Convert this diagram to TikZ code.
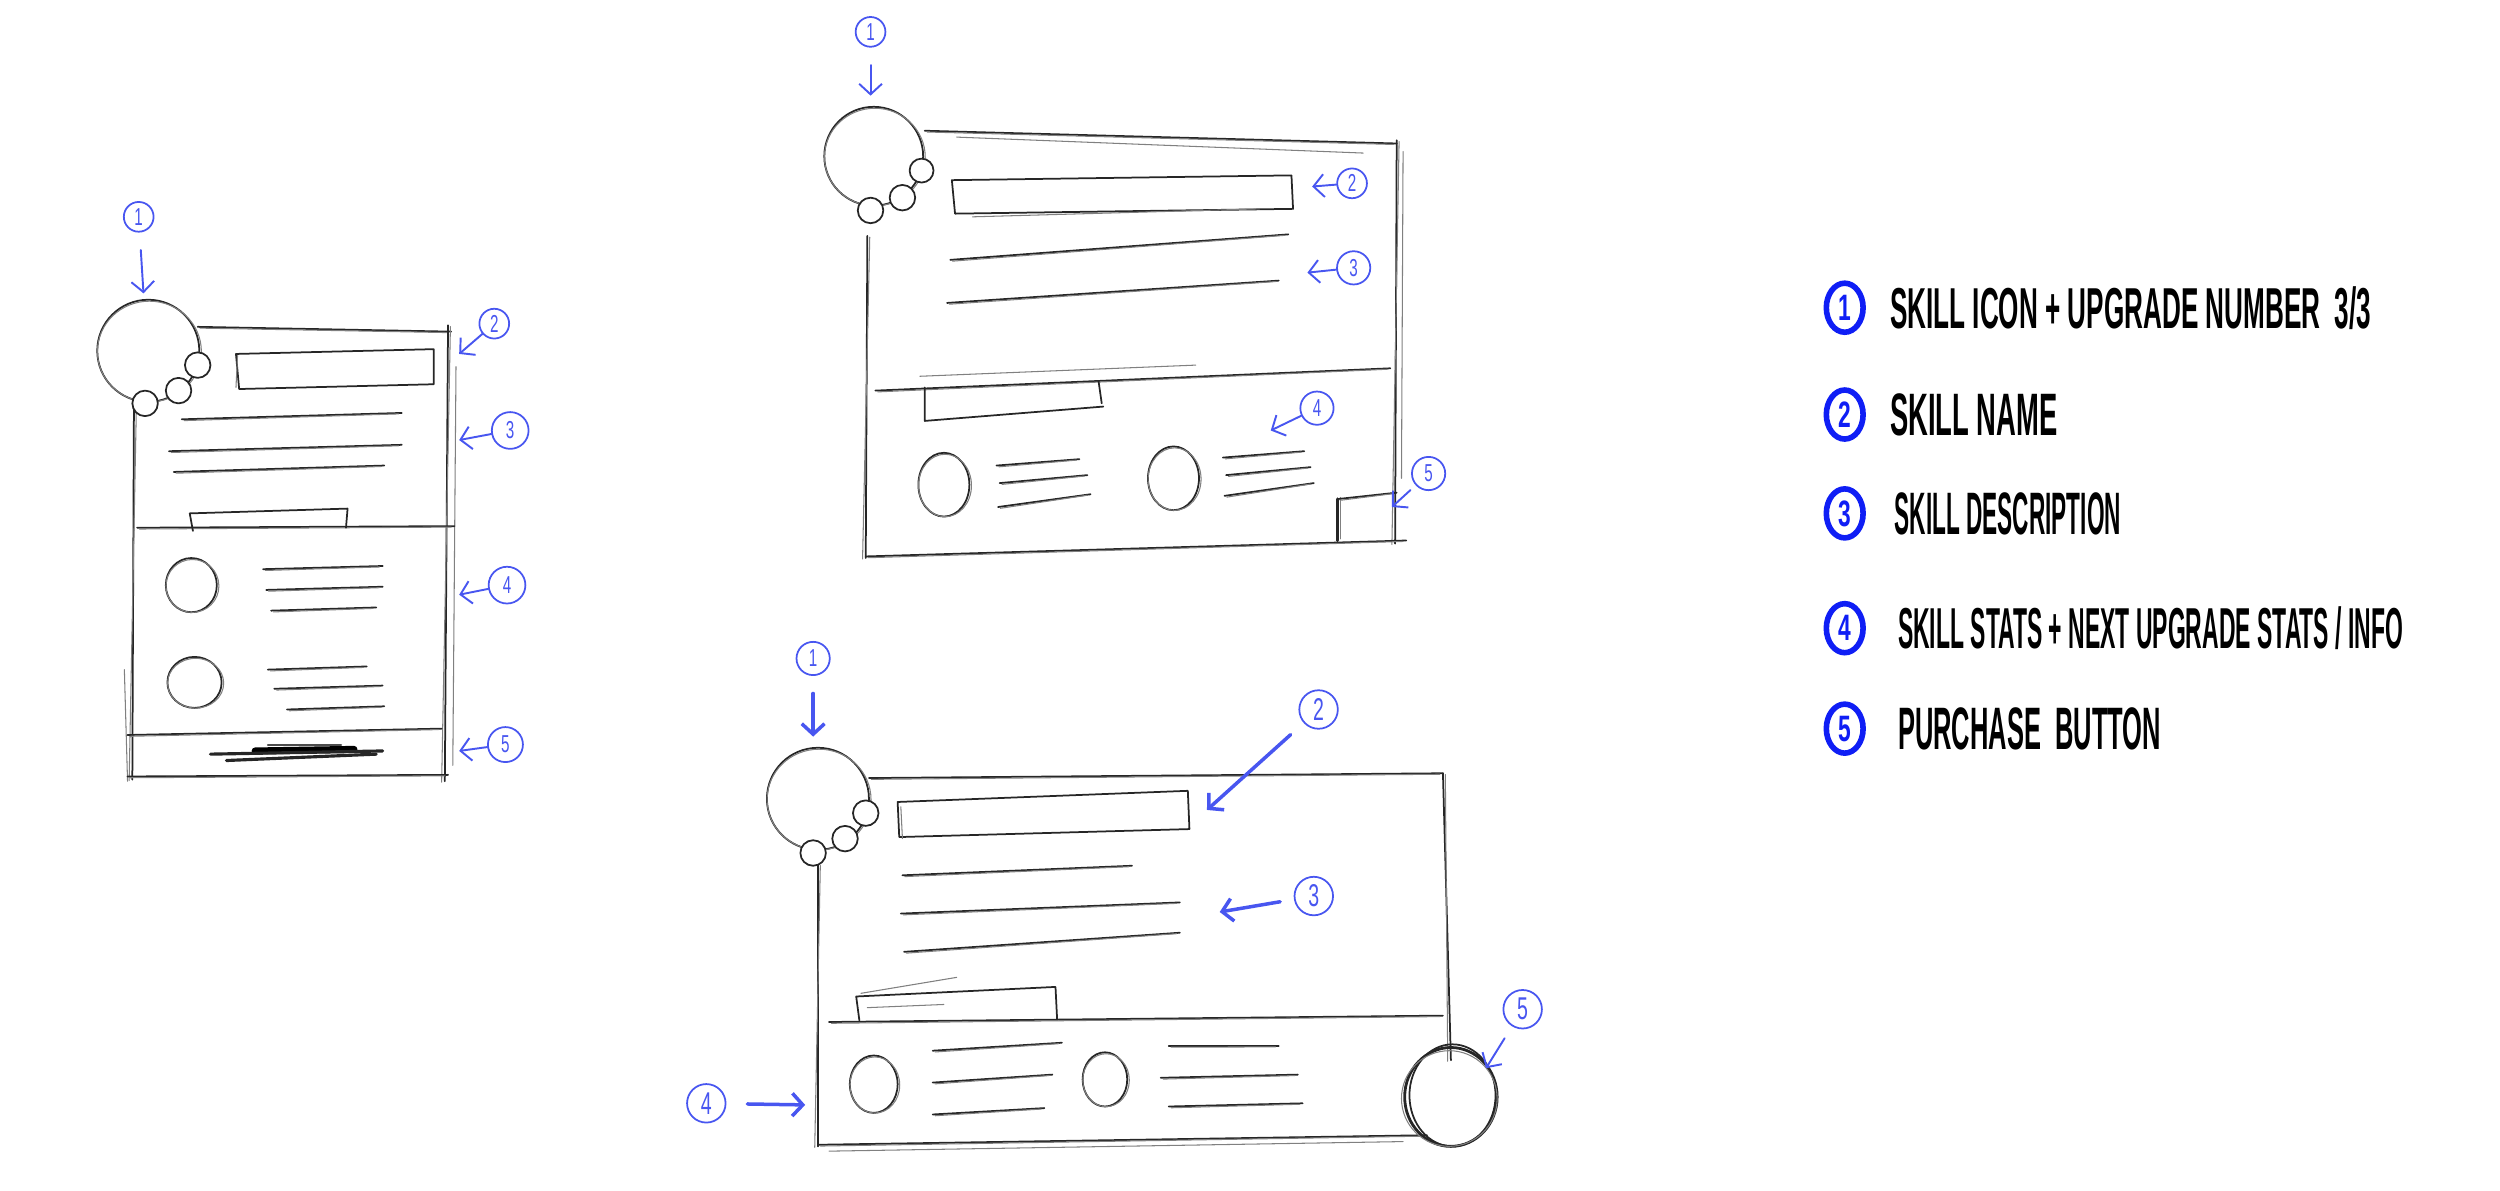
\documentclass[tikz,border=0pt]{standalone}
\usepackage{fontspec}
\usepackage{graphicx}
\usetikzlibrary{arrows.meta,calc,shapes.geometric}
\newfontfamily\hand[FakeStretch=0.62]{Liberation Sans}
\definecolor{annblue}{RGB}{72,86,240}
\definecolor{legblue}{RGB}{15,30,245}
\newcommand\SL[2]{\draw[sk] #1 -- #2;\draw[skb] ($#1+(1.5,0.8)$) -- ($#2+(-2,0.6)$);}
\newcommand\SE[3]{\draw[sk] #1 ellipse [x radius=#2, y radius=#3];\draw[skb] ($#1+(0.7,0.5)$) ellipse [x radius=#2+0.6, y radius=#3-0.4];}
\newcommand\SF[2]{\filldraw[sk,fill=white] #1 circle [radius=#2];}
\begin{document}
\begin{tikzpicture}[x=0.016cm,y=-0.016cm,
  sk/.style={draw=black!85,line width=0.5pt,line cap=round,line join=round},
  skb/.style={draw=black!50,line width=0.3pt,line cap=round},
  ann/.style={draw=annblue,line width=0.55pt,line cap=round},
  arr/.style={ann,-{Straight Barb[length=3pt,width=6.5pt]}},
  harr/.style={arr,line width=1pt},
  num/.style={circle,draw=annblue,line width=0.5pt,text=annblue,inner sep=0pt,minimum size=8.5pt,font=\hand\fontsize{7}{7}\selectfont},
  bnum/.style={num,minimum size=11pt,font=\hand\fontsize{9}{9}\selectfont},
  lnum/.style={ellipse,draw=legblue,line width=1.6pt,text=legblue,inner sep=0pt,minimum width=10.5pt,minimum height=14pt,font=\hand\bfseries\fontsize{10.5}{10.5}\selectfont},
  ltext/.style={anchor=west,inner sep=0pt,text=black}]
\useasboundingbox (0,0) rectangle (1568,747);

% ================= Sketch 1 (portrait) =================
\SL{(124,205)}{(283,208)}
\SL{(281,204)}{(279,490)}
\draw[skb] (286,230) -- (284,480);
\SL{(84,256)}{(83,489)}
\draw[skb] (78,420) -- (80,490);
\SL{(80,487)}{(281,486)}
\SL{(80,461)}{(277,457)}
\SL{(86,331)}{(285,330)}
\draw[sk] (148,222) -- (272,219) -- (272,241) -- (150,244) -- cycle;
\draw[skb] (149,223) -- (148,243);
\SL{(114,263)}{(252,259)}
\SL{(106,283)}{(252,279)}
\SL{(109,296)}{(241,292)}
\draw[sk] (121,333) -- (119,322) -- (218,319) -- (217,331);
\SE{(120,367)}{16}{17}
\SE{(122,428)}{17}{16}
\SL{(165,357)}{(240,355)}
\SL{(167,370)}{(240,368)}
\SL{(170,383)}{(236,381)}
\SL{(168,420)}{(230,418)}
\SL{(172,432)}{(240,430)}
\SL{(180,445)}{(241,443)}
\draw[black,line width=2pt,line cap=round] (160,471) -- (222,470);
\draw[black!85,line width=0.9pt,line cap=round] (132,473) -- (240,471);
\draw[black!85,line width=0.9pt,line cap=round] (142,477) -- (236,473);
\draw[black!70,line width=0.6pt,line cap=round] (168,467) -- (214,467);
% icon
\SE{(93,220)}{32}{32}
\SF{(124,229)}{8}
\SF{(112,245)}{8}
\SF{(91,253)}{8}
% annotations
\node[num] (s1n1) at (87,136) {1};
\node[num] (s1n2) at (310,203) {2};
\node[num,minimum size=10.5pt] (s1n3) at (320,270) {3};
\node[num,minimum size=10.5pt] (s1n4) at (318,367) {4};
\node[num,minimum size=10pt] (s1n5) at (317,467) {5};
\coordinate (s1c1) at (90,184);
\coordinate (s1c2) at (288,222);
\coordinate (s1c3) at (288,276);
\coordinate (s1c4) at (288,373);
\coordinate (s1c5) at (288,471);
\draw[arr,shorten <=5pt] (s1n1) -- (s1c1);
\draw[arr] (s1n2) -- (s1c2);
\draw[arr] (s1n3) -- (s1c3);
\draw[arr] (s1n4) -- (s1c4);
\draw[arr] (s1n5) -- (s1c5);

% ================= Sketch 2 (landscape) =================
\SL{(580,82)}{(876,90)}
\draw[skb] (600,86) -- (855,96);
\SL{(876,88)}{(875,341)}
\draw[skb] (880,95) -- (879,300);
\SL{(544,148)}{(543,350)}
\SL{(543,349)}{(882,339)}
\draw[sk] (597,113) -- (810,110) -- (811,131) -- (599,134) -- cycle;
\draw[skb] (610,136) -- (790,131);
\SL{(596,163)}{(808,147)}
\SL{(594,190)}{(802,176)}
\SL{(549,245)}{(872,231)}
\draw[skb] (577,236) -- (750,229);
\draw[sk] (580,243) -- (580,264) -- (692,255);
\draw[sk] (689,239) -- (691,253);
\SE{(592,304)}{16}{20}
\SE{(736,300)}{16}{20}
\SL{(625,292)}{(677,288)}
\SL{(627,303)}{(682,298)}
\SL{(626,318)}{(684,310)}
\SL{(767,287)}{(818,283)}
\SL{(769,298)}{(822,293)}
\SL{(768,311)}{(824,303)}
\draw[sk,line width=0.9pt] (839,313) -- (839,339);
\draw[skb] (841,312) -- (841,338);
\SL{(839,313)}{(876,309)}
% icon
\SE{(548,98)}{31}{31}
\SF{(578,107)}{7.5}
\SF{(566,124)}{8}
\SF{(546,132)}{8}
% annotations
\node[num] (s2n1) at (546,20) {1};
\node[num] (s2n2) at (848,115) {2};
\node[num,minimum size=9.5pt] (s2n3) at (849,168) {3};
\node[num,minimum size=9.5pt] (s2n4) at (826,256) {4};
\node[num,minimum size=9.5pt] (s2n5) at (896,297) {5};
\coordinate (s2c1) at (546,60);
\coordinate (s2c2) at (823,117);
\coordinate (s2c3) at (820,171);
\coordinate (s2c4) at (797,270);
\coordinate (s2c5) at (873,318);
\draw[arr,shorten <=5pt] (s2n1) -- (s2c1);
\draw[arr] (s2n2) -- (s2c2);
\draw[arr] (s2n3) -- (s2c3);
\draw[arr] (s2n4) -- (s2c4);
\draw[arr,shorten <=2pt] (s2n5) -- (s2c5);

% ================= Sketch 3 (landscape, round button) =================
\SL{(545,488)}{(905,485)}
\SL{(905,485)}{(910,665)}
\SL{(513,542)}{(513,719)}
\SL{(513,718)}{(895,712)}
\draw[skb] (520,722) -- (880,716);
\draw[sk] (563,503) -- (745,496) -- (746,520) -- (564,525) -- cycle;
\draw[skb] (565,506) -- (566,526);
\SL{(566,549)}{(710,543)}
\SL{(565,573)}{(740,566)}
\SL{(567,597)}{(740,585)}
\draw[sk] (539,640) -- (537,625) -- (662,619) -- (663,639);
\draw[skb] (540,623) -- (600,613);
\draw[skb] (544,632) -- (592,630);
\SL{(520,641)}{(905,637)}
\SE{(548,680)}{15}{18}
\SE{(693,677)}{14}{17}
\SL{(585,659)}{(666,654)}
\SL{(585,679)}{(660,674)}
\SL{(585,699)}{(655,695)}
\SL{(733,656)}{(802,656)}
\SL{(728,676)}{(814,674)}
\SL{(733,694)}{(817,692)}
\draw[sk,line width=0.8pt] (910,688) ellipse [x radius=29, y radius=31];
\draw[sk] (911,687) ellipse [x radius=27, y radius=32];
\draw[skb] (909,689) ellipse [x radius=30, y radius=30];
% icon
\SE{(513,501)}{32}{32}
\SF{(543,510)}{8}
\SF{(530,526)}{8}
\SF{(510,535)}{8}
% annotations
\node[num,minimum size=9.5pt] (s3n1) at (510,413) {1};
\node[bnum] (s3n2) at (827,445) {2};
\node[bnum] (s3n3) at (824,562) {3};
\node[bnum] (s3n4) at (443,692) {4};
\node[bnum] (s3n5) at (955,633) {5};
\coordinate (s3c1) at (510,462);
\coordinate (s3c2) at (757,508);
\coordinate (s3c3) at (765,572);
\coordinate (s3c4) at (505,693);
\coordinate (s3c5) at (932,670);
\draw[harr,shorten <=5pt] (s3n1) -- (s3c1);
\draw[harr,shorten <=5pt] (s3n2) -- (s3c2);
\draw[harr,shorten <=4pt] (s3n3) -- (s3c3);
\draw[harr,shorten <=6pt] (s3n4) -- (s3c4);
\draw[arr,shorten <=4pt] (s3n5) -- (s3c5);

% ================= Legend =================
\node[lnum] (l1) at (1157,193) {1};
\node[lnum] (l2) at (1157,260) {2};
\node[lnum] (l3) at (1157,322) {3};
\node[lnum] (l4) at (1157,394) {4};
\node[lnum] (l5) at (1157,457) {5};
\node[ltext] (t1) at (1185,193) {\resizebox{4.83cm}{0.42cm}{\hand\bfseries SKILL ICON + UPGRADE NUMBER\ \ 3/3}};
\node[ltext] (t2) at (1185,260) {\resizebox{1.68cm}{0.42cm}{\hand\bfseries SKILL NAME}};
\node[ltext] (t3) at (1188,322) {\resizebox{2.27cm}{0.42cm}{\hand\bfseries SKILL DESCRIPTION}};
\node[ltext] (t4) at (1190,394) {\resizebox{5.07cm}{0.42cm}{\hand\bfseries SKILL STATS + NEXT UPGRADE STATS / INFO}};
\node[ltext] (t5) at (1190,457) {\resizebox{2.64cm}{0.42cm}{\hand\bfseries PURCHASE\ \ BUTTON}};
\end{tikzpicture}
\end{document}
